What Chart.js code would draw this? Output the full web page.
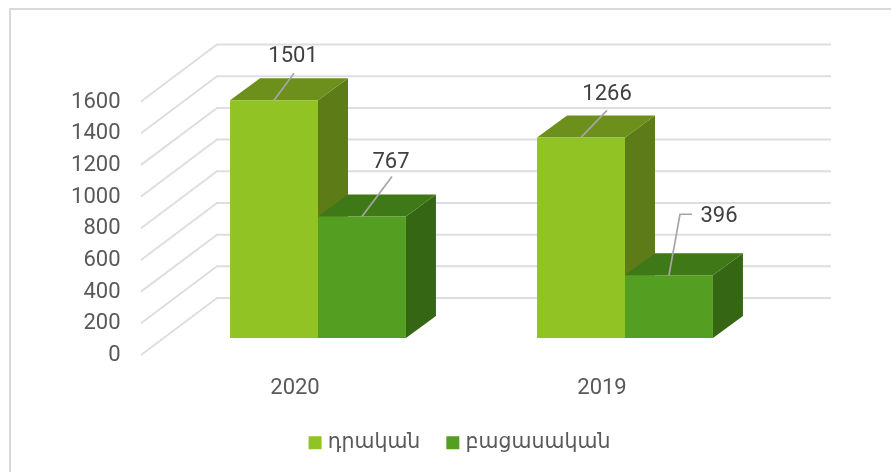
<!DOCTYPE html>
<html><head><meta charset="utf-8">
<style>html,body{margin:0;padding:0;background:#fff}canvas{display:block}</style>
<script src="https://cdn.jsdelivr.net/npm/chart.js@4"></script></head>
<body><canvas id="c" width="891" height="472"></canvas>
<script>
const categories = ['2020', '2019'];
const positiveName = 'դրական';
const negativeName = 'բացասական';
const positiveValues = [1501, 1266];
const negativeValues = [767, 396];
const yTicks = {min: 0, max: 1600, step: 200};

const FONT = 'Roboto, "Noto Sans", "DejaVu Sans", sans-serif';
const TEXT = '#595959';
const depth = {x: 30, y: 22};
const floorFront = {x: -23.5, y: 17};
const wall = {x: 52.5, y: -40};
const faces = [
  {front: '#92c325', top: '#6c901b', side: '#5d7c17'},
  {front: '#549e21', top: '#3f7817', side: '#356614'}
];
const leaders = [
  [[[20,-27]], [[30,-40]]],
  [[[26,-27]], [[11,-61],[23,-61]]]
];
const labelOffsets = [
  [[19,-44], [29,-54]],
  [[26,-43], [50,-59]]
];
function poly(ctx, pts, fill) {
  ctx.beginPath();
  pts.forEach((p, i) => i ? ctx.lineTo(p[0], p[1]) : ctx.moveTo(p[0], p[1]));
  ctx.closePath();
  ctx.fillStyle = fill; ctx.fill();
}
const threeD = {
  id: 'threeD',
  afterLayout(chart) {
    chart.legend.left = 32; chart.legend.right = 891;
  },
  beforeDraw(chart) {
    const c = chart.ctx;
    c.save();
    c.strokeStyle = '#d9d9d9'; c.lineWidth = 2;
    c.beginPath(); c.moveTo(10, 472); c.lineTo(10, 9); c.lineTo(891, 9); c.stroke();
    c.restore();
  },
  beforeDatasetsDraw(chart) {
    const c = chart.ctx, y = chart.scales.y, a = chart.chartArea;
    c.save();
    c.strokeStyle = '#dedede'; c.lineWidth = 2;
    y.ticks.forEach(t => {
      const py = y.getPixelForValue(t.value);
      c.beginPath();
      c.moveTo(a.left + floorFront.x, py + floorFront.y);
      c.lineTo(a.left + wall.x, py + wall.y);
      c.lineTo(a.right + wall.x, py + wall.y);
      c.stroke();
    });
    chart.data.datasets.forEach((d, di) => {
      chart.getDatasetMeta(di).data.forEach(b => {
        const l = b.x - b.width / 2, r = b.x + b.width / 2, t = b.y, base = b.base;
        poly(c, [[r,t],[r+depth.x,t-depth.y],[r+depth.x,base-depth.y],[r,base]], faces[di].side);
        poly(c, [[l,t],[l+depth.x,t-depth.y],[r+depth.x,t-depth.y],[r,t]], faces[di].top);
      });
    });
    c.restore();
  },
  afterDatasetsDraw(chart) {
    const c = chart.ctx;
    c.save();
    c.font = '22px ' + FONT;
    c.textAlign = 'center'; c.textBaseline = 'middle';
    chart.data.datasets.forEach((d, di) => {
      chart.getDatasetMeta(di).data.forEach((b, i) => {
        c.strokeStyle = '#a6a6a6'; c.lineWidth = 1.7;
        c.beginPath(); c.moveTo(b.x, b.y);
        leaders[i][di].forEach(p => c.lineTo(b.x + p[0], b.y + p[1]));
        c.stroke();
        c.fillStyle = '#404040';
        const o = labelOffsets[i][di];
        c.fillText(String(d.data[i]), b.x + o[0], b.y + o[1]);
      });
    });
    c.restore();
  }
};
new Chart(document.getElementById('c'), {
  type: 'bar',
  data: {
    labels: categories,
    datasets: [
      {label: positiveName, data: positiveValues, backgroundColor: faces[0].front, borderWidth: 0},
      {label: negativeName, data: negativeValues, backgroundColor: faces[1].front, borderWidth: 0}
    ]
  },
  plugins: [threeD],
  options: {
    responsive: false, animation: false,
    layout: {padding: {left: 0, right: 112.5, top: 84.5, bottom: 9}},
    datasets: {bar: {categoryPercentage: 0.573, barPercentage: 1}},
    plugins: {
      tooltip: {enabled: false},
      title: {display: false},
      legend: {
        position: 'bottom',
        labels: {
          boxWidth: 5, boxHeight: 5, padding: 30, color: TEXT, font: {family: FONT, size: 20.5},
          generateLabels(chart) {
            return Chart.defaults.plugins.legend.labels.generateLabels(chart).map(l => {
              l.lineWidth = 8; l.strokeStyle = l.fillStyle; return l;
            });
          }
        }
      }
    },
    scales: {
      x: {
        grid: {display: false, drawTicks: false}, border: {display: false},
        ticks: {color: TEXT, font: {family: FONT, size: 22}, labelOffset: -23, padding: 37.5, maxRotation: 0},
        afterFit(s) { s.height = 64.5; }
      },
      y: {
        min: yTicks.min, max: yTicks.max,
        grid: {display: false, drawTicks: false}, border: {display: false},
        ticks: {stepSize: yTicks.step, color: TEXT, font: {family: FONT, size: 22}, labelOffset: 17.5, padding: 44,
          callback: v => String(v)},
        afterFit(s) { s.width = 164.5; }
      }
    }
  }
});
</script></body></html>
